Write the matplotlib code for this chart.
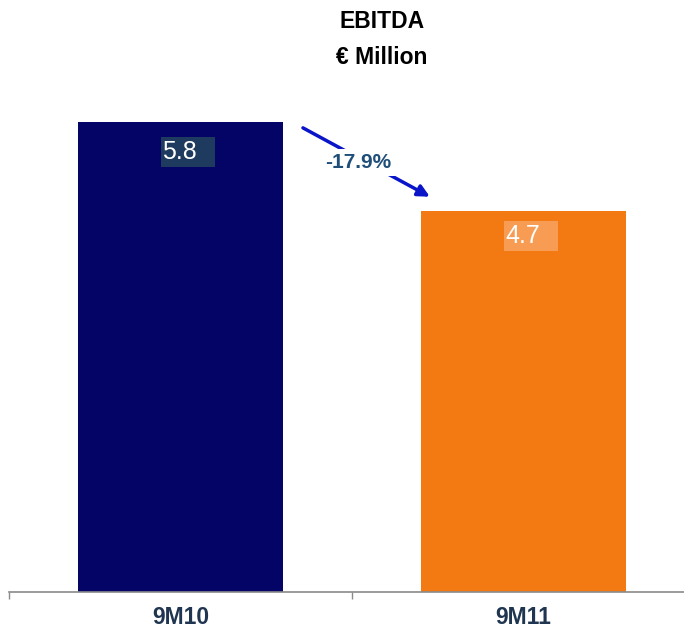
import matplotlib
matplotlib.use("Agg")
import matplotlib.pyplot as plt
from matplotlib.patches import Rectangle
from matplotlib.transforms import IdentityTransform

categories = ["9M10", "9M11"]
values = [5.8, 4.7]
value_labels = ["5.8", "4.7"]
change_label = "-17.9%"

bar_colors = ["#030466", "#F37A12"]
box_colors = ["#1E3A5E", "#F79C52"]

plt.rcParams['font.family'] = ['Liberation Sans', 'DejaVu Sans']

fig = plt.figure(figsize=(6.84, 6.3), dpi=100)
ax = fig.add_axes([9/684, 1 - 592/630, 686/684, (592 - 70)/630])

x = list(range(len(categories)))
ax.bar(x, values, width=0.595, color=bar_colors, zorder=2)
ax.set_xlim(-0.5, 1.5)
ax.set_ylim(0, 522/81.0)

for s in ["top", "right", "left"]:
    ax.spines[s].set_visible(False)
ax.spines["bottom"].set_color("#8a8a8a")
ax.spines["bottom"].set_linewidth(1.2)
ax.set_yticks([])
ax.set_xticks(x)
ax.set_xticklabels(categories, fontsize=16.5, fontweight="bold", color="#1F3550")
ax.tick_params(axis="x", which="major", length=0, pad=10)
ax.set_xticks([-0.5, 0.5, 1.5], minor=True)
ax.tick_params(axis="x", which="minor", length=5, color="#8a8a8a", width=1)

# value labels in boxes
fig.canvas.draw()
for i, v in enumerate(values):
    px, py = ax.transData.transform((i, v))
    bx = px - 20
    by = py - 45 if i == 0 else py - 40
    rect = Rectangle((bx, by), 54, 30, transform=IdentityTransform(),
                     facecolor=box_colors[i], edgecolor="none", zorder=3)
    fig.add_artist(rect)
    fig.text(bx + 2, by + 15, value_labels[i], transform=IdentityTransform(),
             fontsize=18, color="white", ha="left", va="center", zorder=4)

# change arrow
ax.annotate("", xy=(0.727, 4.88), xytext=(0.357, 5.73),
            arrowprops=dict(arrowstyle="-|>,head_length=0.7,head_width=0.35",
                            color="#0A14C8", lw=2.5, shrinkA=0, shrinkB=0),
            zorder=3)
ax.text(0.517, 5.30, change_label, fontsize=15, fontweight="bold", color="#1F4E79",
        ha="center", va="center", zorder=4,
        bbox=dict(boxstyle="square,pad=0.2", facecolor="white", edgecolor="none"))

fig.text(382/684, 1 - 22/630, "EBITDA", fontsize=16.5, fontweight="bold",
         ha="center", va="center", color="black")
fig.text(382/684, 1 - 57/630, "€ Million", fontsize=16.5, fontweight="bold",
         ha="center", va="center", color="black")

fig.savefig("out.png", dpi=100)
